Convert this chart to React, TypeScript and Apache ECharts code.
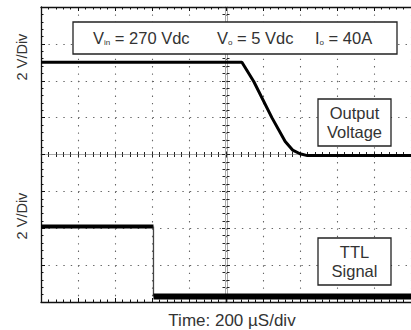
import React, { useEffect, useRef } from "react";
import * as echarts from "echarts";

// Output voltage trace (divisions: x 0..10, y 0..8)
const outX = [0, 5.43, 5.75, 6.24, 6.6, 6.8, 7.0, 7.2, 10];
const outY = [6.5, 6.5, 5.98, 5.0, 4.35, 4.12, 4.02, 3.97, 3.97];
// TTL signal trace
const ttlHighX = [0, 3.04];
const ttlHighY = [2.05, 2.05];
const ttlEdgeX = [3.04, 3.04];
const ttlEdgeY = [2.05, 0.15];
const ttlLowX = [3.04, 10];
const ttlLowY = [0.15, 0.15];

const xLabel = "Time: 200 µS/div";
const yLabel = "2 V/Div";

const FONT = "Liberation Sans, Arial, Helvetica, sans-serif";
const TXT = "#333";

const pairs = (xs: number[], ys: number[]) => xs.map((x, i) => [x, ys[i]]);

const dotH = [1.4, 6.04];
const dotV = [1.4, 5.98];

function borderAxis(extra: any) {
  return {
    type: "value",
    min: 0,
    interval: 1,
    axisLabel: { show: false },
    axisLine: { show: true, onZero: false, lineStyle: { color: "#111", width: 1.3 } },
    axisTick: { show: true, inside: true, length: 4, lineStyle: { color: "#111" } },
    minorTick: { show: true, splitNumber: 5, length: 2.5, lineStyle: { color: "#111" } },
    splitLine: { show: false },
    ...extra,
  };
}

function centerAxis(extra: any) {
  return {
    type: "value",
    min: 0,
    interval: 1,
    axisLabel: { show: false },
    axisLine: { show: true, onZero: false, lineStyle: { color: "#aaa", width: 1 } },
    axisTick: { show: true, inside: true, length: 3, lineStyle: { color: "#222" } },
    minorTick: { show: true, splitNumber: 5, length: 2.5, lineStyle: { color: "#222" } },
    splitLine: { show: false },
    ...extra,
  };
}

const textRich = {
  n: { fontSize: 16.5, fontFamily: FONT, fill: TXT },
  s: { fontSize: 8, fontFamily: FONT, fill: TXT, verticalAlign: "bottom" },
};

export default function App() {
  const ref = useRef<HTMLDivElement>(null);
  useEffect(() => {
    if (!ref.current) return;
    const chart = echarts.init(ref.current, undefined, { renderer: "svg" });
    const option: any = {
      animation: false,
      backgroundColor: "#fff",
      grid: { left: 41, top: 7, width: 372, height: 295 },
      xAxis: [
        borderAxis({
          max: 10,
          position: "bottom",
          splitLine: { show: true, lineStyle: { color: "#666", width: 1.1, type: dotV } },
        }),
        borderAxis({ max: 10, position: "top" }),
        centerAxis({ max: 10, position: "bottom", offset: -147.5 }),
        centerAxis({ max: 10, position: "top", offset: -147.5 }),
      ],
      yAxis: [
        borderAxis({
          max: 8,
          position: "left",
          splitLine: { show: true, lineStyle: { color: "#666", width: 1.1, type: dotH } },
        }),
        centerAxis({ max: 8, position: "left", offset: -186 }),
        centerAxis({ max: 8, position: "right", offset: -186 }),
      ],
      series: [
        {
          type: "line",
          data: pairs(outX, outY),
          showSymbol: false,
          symbol: "none",
          lineStyle: { color: "#000", width: 3 },
          z: 5,
        },
        {
          type: "line",
          data: pairs(ttlHighX, ttlHighY),
          showSymbol: false,
          symbol: "none",
          lineStyle: { color: "#000", width: 4 },
          z: 5,
        },
        {
          type: "line",
          data: pairs(ttlEdgeX, ttlEdgeY),
          showSymbol: false,
          symbol: "none",
          lineStyle: { color: "#444", width: 1.3 },
          z: 5,
        },
        {
          type: "line",
          data: pairs(ttlLowX, ttlLowY),
          showSymbol: false,
          symbol: "none",
          lineStyle: { color: "#000", width: 6 },
          z: 5,
        },
      ],
      graphic: [
        {
          type: "rect",
          shape: { x: 73, y: 22, width: 324, height: 32 },
          style: { fill: "#fff", stroke: "#222", lineWidth: 1.3 },
          z: 100,
        },
        {
          type: "text",
          x: 93,
          y: 38,
          z: 101,
          style: { text: "{n|V}{s|in}{n| = 270 Vdc}", verticalAlign: "middle", rich: textRich },
        },
        {
          type: "text",
          x: 217,
          y: 38,
          z: 101,
          style: { text: "{n|V}{s|o}{n| = 5 Vdc}", verticalAlign: "middle", rich: textRich },
        },
        {
          type: "text",
          x: 315,
          y: 38,
          z: 101,
          style: { text: "{n|I}{s|o}{n| = 40A}", verticalAlign: "middle", rich: textRich },
        },
        {
          type: "rect",
          shape: { x: 318, y: 99, width: 73, height: 47 },
          style: { fill: "#fff", stroke: "#222", lineWidth: 1.3 },
          z: 100,
        },
        {
          type: "text",
          x: 354.5,
          y: 122.5,
          z: 101,
          style: {
            text: "Output\nVoltage",
            align: "center",
            verticalAlign: "middle",
            fontSize: 16.5,
            lineHeight: 19,
            fontFamily: FONT,
            fill: TXT,
          },
        },
        {
          type: "rect",
          shape: { x: 318, y: 238, width: 73, height: 47 },
          style: { fill: "#fff", stroke: "#222", lineWidth: 1.3 },
          z: 100,
        },
        {
          type: "text",
          x: 354.5,
          y: 261.5,
          z: 101,
          style: {
            text: "TTL\nSignal",
            align: "center",
            verticalAlign: "middle",
            fontSize: 16.5,
            lineHeight: 19,
            fontFamily: FONT,
            fill: TXT,
          },
        },
        {
          type: "text",
          x: 22,
          y: 57,
          rotation: Math.PI / 2,
          style: {
            text: yLabel,
            align: "center",
            verticalAlign: "middle",
            fontSize: 14.5,
            fontFamily: FONT,
            fill: TXT,
          },
        },
        {
          type: "text",
          x: 22,
          y: 216,
          rotation: Math.PI / 2,
          style: {
            text: yLabel,
            align: "center",
            verticalAlign: "middle",
            fontSize: 14.5,
            fontFamily: FONT,
            fill: TXT,
          },
        },
        {
          type: "text",
          x: 232,
          y: 320,
          style: {
            text: xLabel,
            align: "center",
            verticalAlign: "middle",
            fontSize: 17,
            fontFamily: FONT,
            fill: TXT,
          },
        },
      ],
    };
    chart.setOption(option);
    return () => chart.dispose();
  }, []);
  return (
    <div
      ref={ref}
      style={{ position: "fixed", left: 0, top: 0, width: 411, height: 330, background: "#fff" }}
    />
  );
}
